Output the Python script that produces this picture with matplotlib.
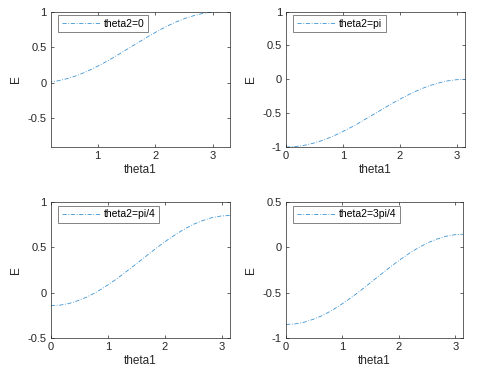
import matplotlib
matplotlib.use("Agg")
import matplotlib.pyplot as plt

theta1 = [0.0, 0.157, 0.314, 0.471, 0.628, 0.785, 0.942, 1.100, 1.257, 1.414, 1.571,
          1.728, 1.885, 2.042, 2.199, 2.356, 2.513, 2.670, 2.827, 2.985, 3.142]

E_0 = [0.0, 0.006, 0.024, 0.055, 0.095, 0.146, 0.206, 0.273, 0.345, 0.422, 0.5,
       0.578, 0.655, 0.727, 0.794, 0.854, 0.905, 0.945, 0.976, 0.994, 1.0]
E_pi = [-1.0, -0.994, -0.976, -0.945, -0.905, -0.854, -0.794, -0.727, -0.655, -0.578, -0.5,
        -0.422, -0.345, -0.273, -0.206, -0.146, -0.095, -0.055, -0.024, -0.006, 0.0]
E_pi4 = [-0.146, -0.140, -0.122, -0.091, -0.051, 0.0, 0.060, 0.127, 0.199, 0.276, 0.354,
         0.432, 0.509, 0.581, 0.648, 0.708, 0.759, 0.799, 0.830, 0.848, 0.854]
E_3pi4 = [-0.854, -0.848, -0.830, -0.799, -0.759, -0.708, -0.648, -0.581, -0.509, -0.432, -0.354,
          -0.276, -0.199, -0.127, -0.060, 0.0, 0.051, 0.091, 0.122, 0.140, 0.146]

labels = ["theta2=0", "theta2=pi", "theta2=pi/4", "theta2=3pi/4"]
series = [E_0, E_pi, E_pi4, E_3pi4]
xlims = [(0.19, 3.29), (0, 3.1416), (0, 3.1416), (0, 3.1416)]
ylims = [(-0.91, 1), (-1, 1), (-0.5, 1), (-1, 0.5)]
yticks = [[-0.5, 0, 0.5, 1], [-1, -0.5, 0, 0.5, 1], [-0.5, 0, 0.5, 1], [-1, -0.5, 0, 0.5]]
xticks = [[1, 2, 3], [0, 1, 2, 3], [0, 1, 2, 3], [0, 1, 2, 3]]

plt.rcParams['font.family'] = ['Liberation Sans', 'DejaVu Sans']
axcol = (0.15, 0.15, 0.15)
linecol = '#3d94d4'

fig = plt.figure(figsize=(4.8, 3.76), dpi=100)
positions = [(0.106, 0.609, 0.373, 0.360), (0.596, 0.609, 0.373, 0.360),
             (0.106, 0.102, 0.373, 0.360), (0.596, 0.102, 0.369, 0.360)]

def fmt(v):
    return '%g' % v

for i in range(4):
    ax = fig.add_axes(positions[i])
    ln, = ax.plot(theta1, series[i], color=linecol, lw=0.6, label=labels[i])
    ln.set_dashes([5, 2, 1, 2])
    ax.set_xlim(*xlims[i])
    ax.set_ylim(*ylims[i])
    ax.set_xticks(xticks[i])
    ax.set_xticklabels([fmt(v) for v in xticks[i]])
    ax.set_yticks(yticks[i])
    ax.set_yticklabels([fmt(v) for v in yticks[i]])
    ax.tick_params(direction='in', length=2.5, width=0.5, colors=axcol, labelsize=8,
                   top=True, right=True, pad=3)
    for s in ax.spines.values():
        s.set_color(axcol)
        s.set_linewidth(0.5)
    ax.set_xlabel('theta1', fontsize=8.5, color=axcol, labelpad=2)
    ax.set_ylabel('E', fontsize=8.5, color=axcol, labelpad=4)
    leg = ax.legend(loc='upper left', bbox_to_anchor=(0.04, 0.976), fontsize=7.5,
                    frameon=True, fancybox=False, edgecolor=axcol, handlelength=3.7,
                    borderpad=0.35, handletextpad=0.35, borderaxespad=0.0)
    leg.get_frame().set_linewidth(0.5)
    for t in leg.get_texts():
        t.set_color('black')

fig.savefig('out.png', dpi=100)
